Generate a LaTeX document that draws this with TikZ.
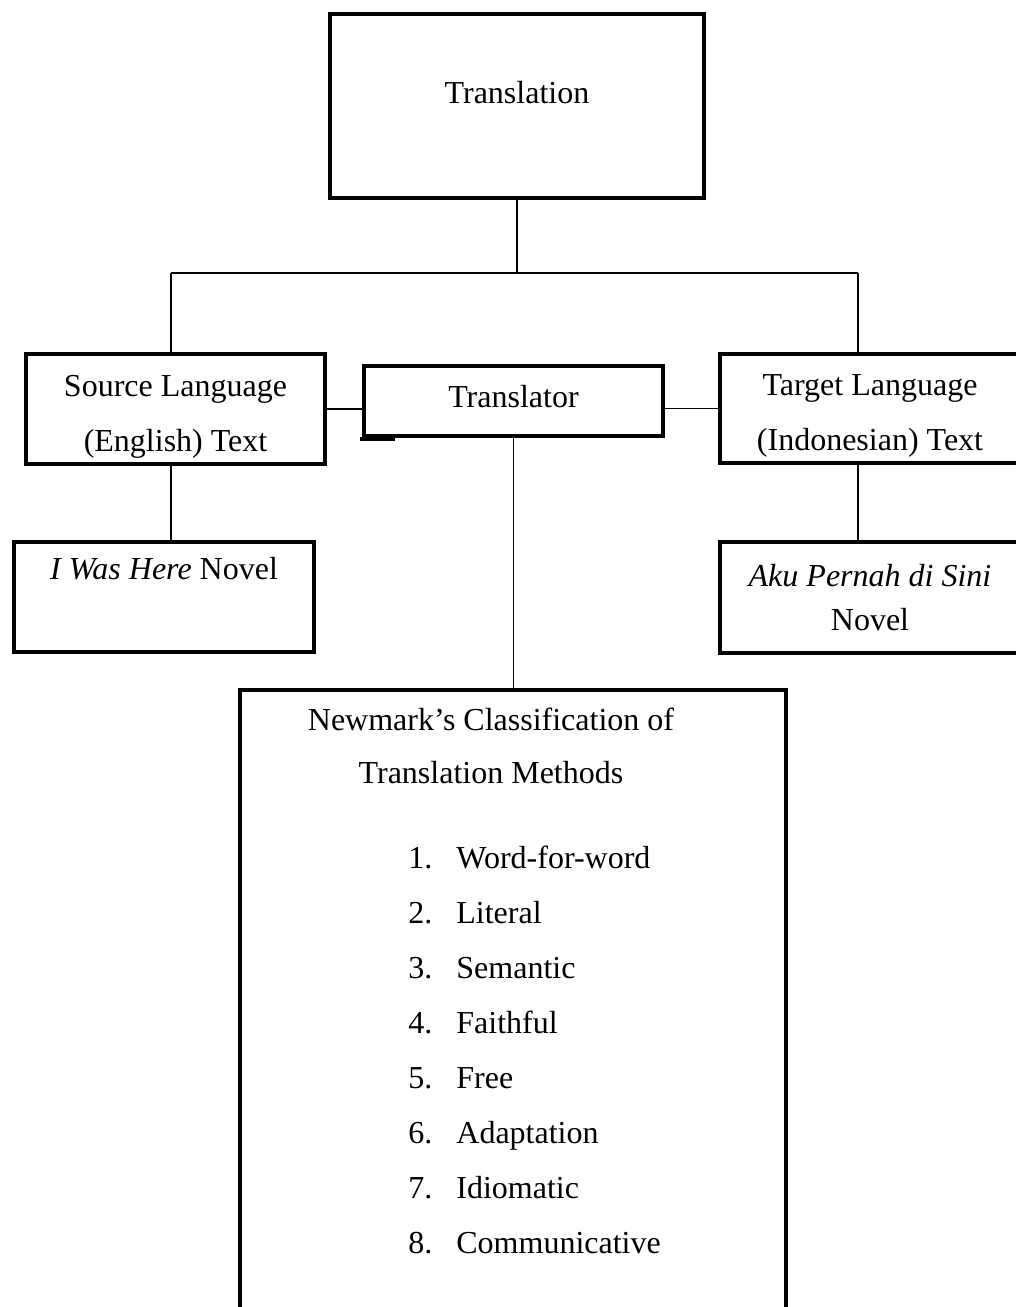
\documentclass[tikz,border=0pt]{standalone}
\usepackage{fontspec}
\setmainfont{Liberation Serif}
\begin{document}
\begin{tikzpicture}[x=0.5pt,y=-0.5pt,
  every node/.style={font=\fontsize{16}{22}\selectfont},
  box/.style={draw,line width=2pt,inner sep=0pt,align=center},
  link/.style={line width=0.75pt}]
\clip(0,0) rectangle (1016,1307);
% boxes
\node[box,minimum width=187pt,minimum height=92pt,text depth=14pt] (trl) at (517,106) {Translation};
\node[box,minimum width=149.5pt,minimum height=55pt] (src) at (175.5,409) {\rule{0pt}{18pt}Source Language\\[5.5pt](English) Text};
\node[box,minimum width=149.5pt,minimum height=35pt,text depth=5pt] (tor) at (513.5,401) {Translator};
\node[box,minimum width=150pt,minimum height=54.5pt] (tgt) at (870,408.5) {\rule{0pt}{18pt}Target Language\\[5.5pt](Indonesian) Text};
\node[box,minimum width=150pt,minimum height=55pt] (iwh) at (164,597) {\textit{I Was Here} Novel\\\strut};
\node[box,minimum width=150pt,minimum height=55.5pt] (aku) at (870,597.5) {\textit{Aku Pernah di Sini}\\Novel};
\node[box,minimum width=273pt,minimum height=330pt,anchor=north] (nmk) at (513,688) {};
\draw[line width=2pt] (tor.south west) ++(-2,1) -- ++(35,0);
% text of the methods box
\node[align=center] (nmktitle) at (491,746) {Newmark’s Classification of\\[4.5pt]Translation Methods};
\foreach \i/\m in {1/Word-for-word,2/Literal,3/Semantic,4/Faithful,5/Free,6/Adaptation,7/Idiomatic,8/Communicative}
  \node[anchor=base west,inner sep=0pt] (item\i) at (408,{868+55*(\i-1)}) {\makebox[24pt][l]{\i.}\m};
% connectors
\coordinate (jl) at (171,273);
\coordinate (jr) at (858,273);
\draw[link] (trl.south) -- (trl.south |- jl);
\draw[link] (jl) -- (jr);
\draw[link] (jl) -- (jl |- src.north);
\draw[link] (jr) -- (jr |- tgt.north);
\draw[link] (src.east) -- (src.east -| tor.west);
\draw[link] (tgt.west) -- (tgt.west -| tor.east);
\draw[link] (jl |- src.south) -- (jl |- iwh.north);
\draw[link] (jr |- tgt.south) -- (jr |- aku.north);
\draw[link] (tor.south) -- (tor.south |- nmk.north);
\end{tikzpicture}
\end{document}
